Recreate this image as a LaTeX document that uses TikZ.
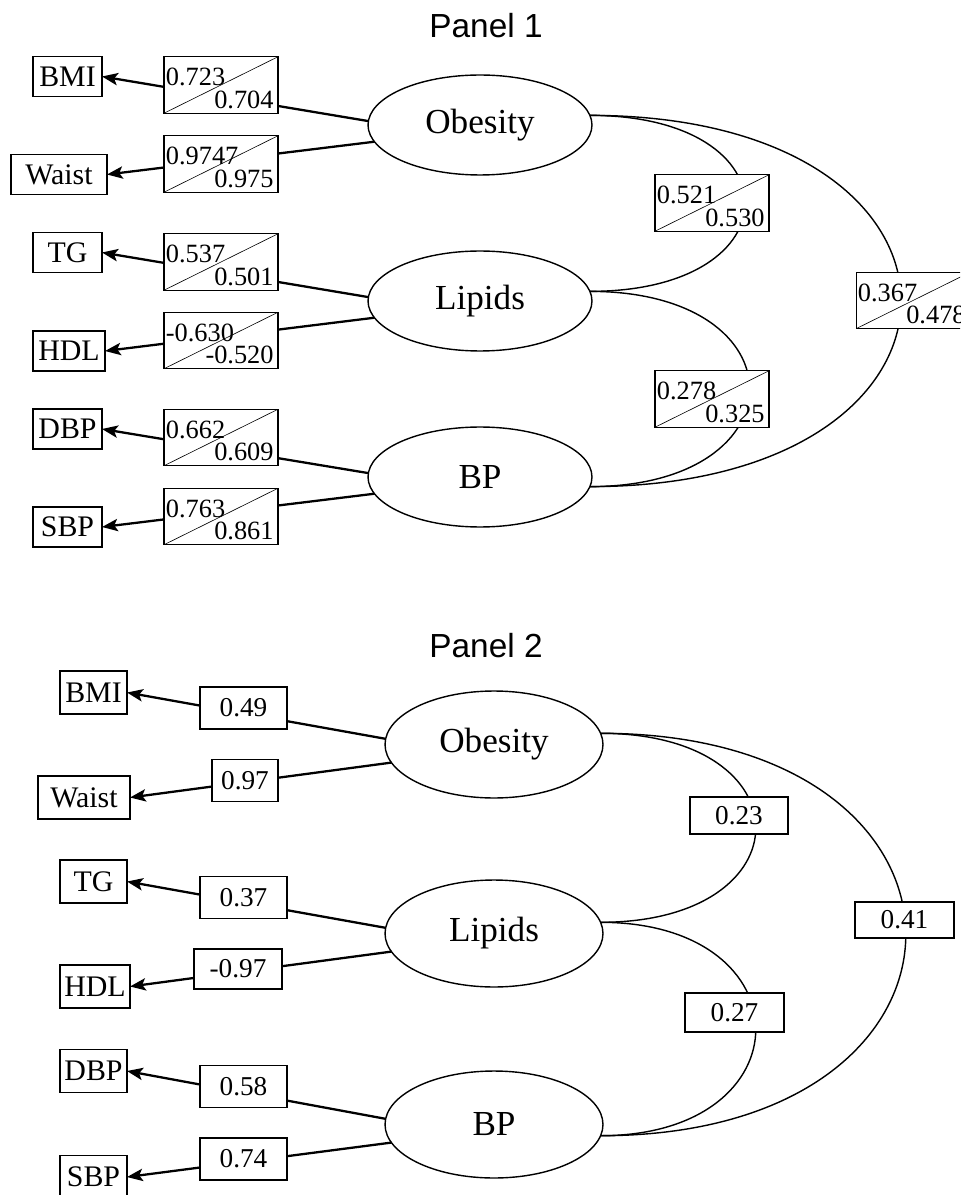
\documentclass[tikz,border=0pt]{standalone}
\usepackage{fontspec}
\setmainfont{Liberation Serif}
\newfontfamily\titlefont{Liberation Sans}
\usetikzlibrary{shapes.geometric,arrows.meta}

\begin{document}
\begin{tikzpicture}[x=0.02cm, y=-0.02cm,
    factor/.style={ellipse, draw, line width=0.8pt, minimum width=4.48cm, minimum height=2cm,
        inner sep=0pt, outer sep=0pt, font=\fontsize{20}{24}\selectfont},
    indic/.style={draw, line width=0.8pt, minimum width=1.38cm, minimum height=0.8cm,
        inner sep=0pt, outer sep=0pt, font=\fontsize{17}{20}\selectfont},
    valbox/.style={draw, fill=white, line width=0.7pt, minimum width=1.74cm, minimum height=0.84cm,
        inner sep=0pt, font=\fontsize{15.5}{18}\selectfont},
    pairbox/.style 2 args={draw, fill=white, line width=0.6pt, minimum width=2.28cm, minimum height=1.13cm,
        inner sep=0pt,
        path picture={\draw[line width=0.35pt] (path picture bounding box.south west)
            -- (path picture bounding box.north east);},
        label={[anchor=north west, inner xsep=1.2pt, inner ysep=6.5pt, font=\fontsize{15}{17}\selectfont]north west:{#1}},
        label={[anchor=south east, inner sep=2.6pt, font=\fontsize{15}{17}\selectfont]south east:{#2}}},
    load/.style={line width=1.3pt, -{Stealth[length=9pt, width=7pt, inset=2pt]}},
    corr/.style={line width=0.8pt},
    title/.style={font=\titlefont\fontsize{19}{22}\selectfont}]

\useasboundingbox (0,0) rectangle (960,1195);
\clip (0,0) rectangle (960,1195);

% Panel 1
\node[title] (title1) at (486,26) {Panel 1};
\node[factor] (ob1) at (480,125) {Obesity};
\node[factor] (li1) at (480,301) {Lipids};
\node[factor] (bp1) at (480,477) {BP};

\node[indic] (bmi1) at (67.5,76.5) {BMI};
\node[indic, minimum width=1.92cm] (waist1) at (59,174.5) {Waist};
\node[indic] (tg1) at (67.5,252.5) {TG};
\node[indic, minimum width=1.44cm] (hdl1) at (69,351) {HDL};
\node[indic] (dbp1) at (67.5,429) {DBP};
\node[indic] (sbp1) at (67.5,527) {SBP};

\draw[load] (ob1.178) -- (bmi1.east);
\draw[load] (ob1.189) -- (waist1.east);
\draw[load] (li1.178) -- (tg1.east);
\draw[load] (li1.189) -- (hdl1.east);
\draw[load] (bp1.178) -- (dbp1.east);
\draw[load] (bp1.189) -- (sbp1.east);

\draw[corr] (ob1.5) .. controls +(207,0) and +(207,0) .. (li1.5);
\draw[corr] (li1.5) .. controls +(213,0) and +(213,0) .. (bp1.-5);
\draw[corr] (ob1.5) .. controls +(415,0) and +(415,0) .. (bp1.-5);

\node[pairbox={0.723}{0.704}] (lbmi1) at (221,85) {};
\node[pairbox={0.9747}{0.975}] (lwaist1) at (221,164) {};
\node[pairbox={0.537}{0.501}] (ltg1) at (221,262) {};
\node[pairbox={-0.630}{-0.520}] (lhdl1) at (221,340.5) {};
\node[pairbox={0.662}{0.609}] (ldbp1) at (221,437.5) {};
\node[pairbox={0.763}{0.861}] (lsbp1) at (221,516.5) {};

\node[pairbox={0.521}{0.530}] (cobli1) at (712,203) {};
\node[pairbox={0.278}{0.325}] (clibp1) at (712,399) {};
\node[pairbox={0.367}{0.478}] (cobbp1) at (913,300.5) {};

% Panel 2
\node[title] (title2) at (486,646) {Panel 2};
\node[factor, minimum width=4.36cm, minimum height=2.14cm] (ob2) at (494,744.5) {Obesity};
\node[factor, minimum width=4.36cm, minimum height=2.14cm] (li2) at (494,933.5) {Lipids};
\node[factor, minimum width=4.36cm, minimum height=2.14cm] (bp2) at (494,1124.5) {BP};

\node[indic, minimum width=1.34cm, minimum height=0.86cm] (bmi2) at (93.5,692.5) {BMI};
\node[indic, minimum width=1.84cm, minimum height=0.86cm] (waist2) at (84,797.5) {Waist};
\node[indic, minimum width=1.34cm, minimum height=0.86cm] (tg2) at (93.5,881.5) {TG};
\node[indic, minimum width=1.40cm, minimum height=0.86cm] (hdl2) at (95,986.5) {HDL};
\node[indic, minimum width=1.34cm, minimum height=0.86cm] (dbp2) at (93.5,1071) {DBP};
\node[indic, minimum width=1.34cm, minimum height=0.86cm] (sbp2) at (93.5,1177) {SBP};

\draw[load] (ob2.177) -- (bmi2.east);
\draw[load] (ob2.190) -- (waist2.east);
\draw[load] (li2.177) -- (tg2.east);
\draw[load] (li2.190) -- (hdl2.east);
\draw[load] (bp2.177) -- (dbp2.east);
\draw[load] (bp2.190) -- (sbp2.east);

\draw[corr] (ob2.6) .. controls +(207,0) and +(207,0) .. (li2.6);
\draw[corr] (li2.6) .. controls +(207,0) and +(207,0) .. (bp2.-6);
\draw[corr] (ob2.6) .. controls +(407,0) and +(407,0) .. (bp2.-6);

\node[valbox] (lbmi2) at (243.5,708) {0.49};
\node[valbox, minimum width=1.32cm] (lwaist2) at (245,780.5) {0.97};
\node[valbox] (ltg2) at (243.5,897.5) {0.37};
\node[valbox, minimum width=1.76cm, minimum height=0.8cm] (lhdl2) at (238,969) {-0.97};
\node[valbox] (ldbp2) at (243.5,1086.5) {0.58};
\node[valbox] (lsbp2) at (243.5,1159) {0.74};

\node[valbox, minimum width=1.96cm, minimum height=0.74cm] (cobli2) at (739,815.5) {0.23};
\node[valbox, minimum width=1.98cm, minimum height=0.78cm] (clibp2) at (734.5,1012.5) {0.27};
\node[valbox, minimum width=1.98cm, minimum height=0.72cm] (cobbp2) at (904.5,920) {0.41};
\end{tikzpicture}
\end{document}
